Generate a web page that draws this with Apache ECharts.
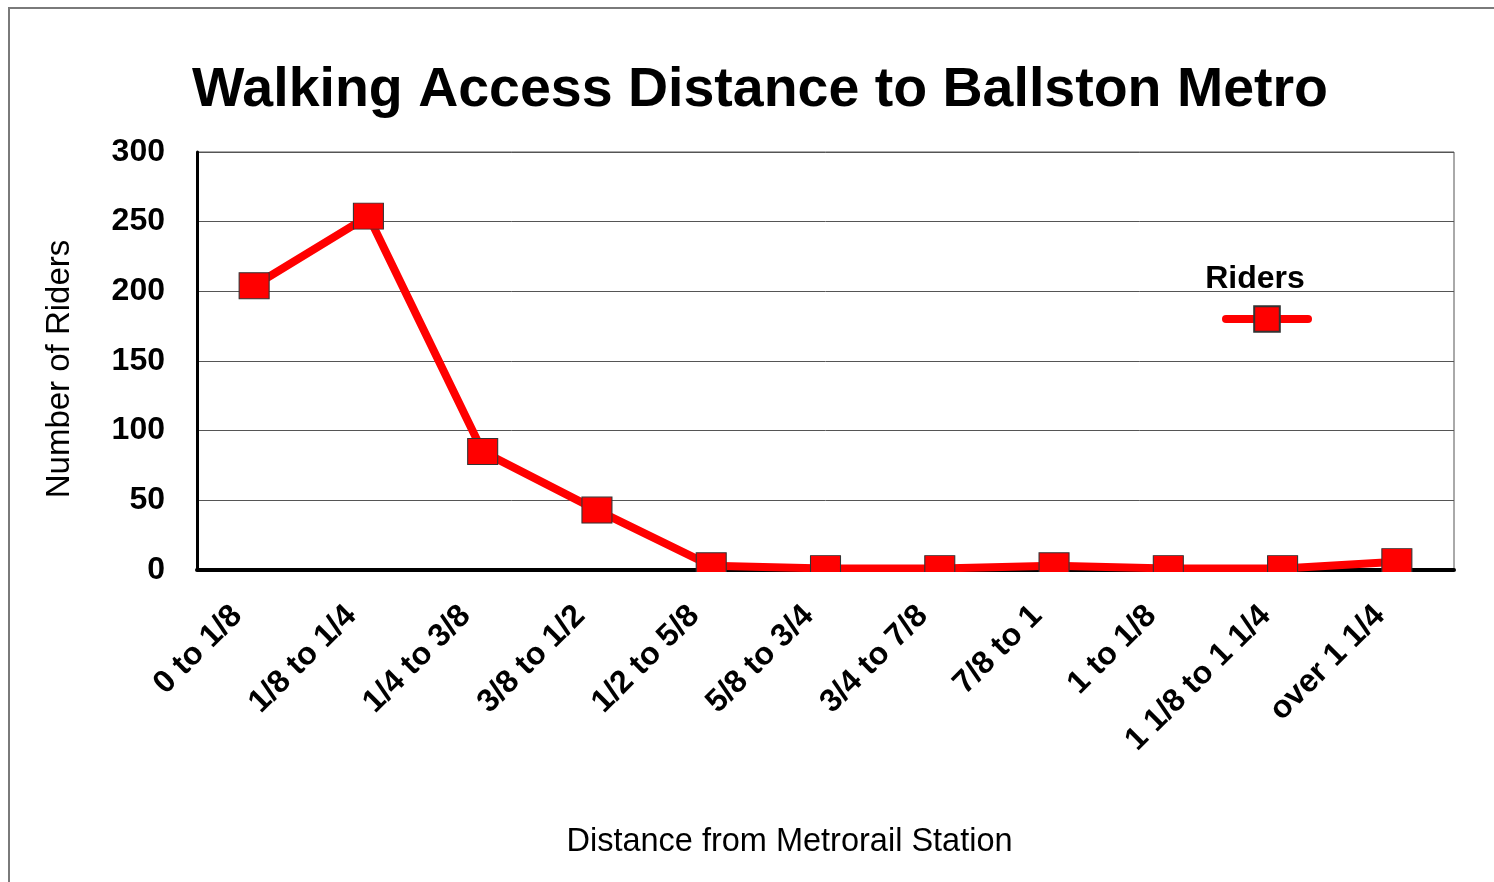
<!DOCTYPE html>
<html>
<head>
<meta charset="utf-8">
<script src="https://cdn.jsdelivr.net/npm/echarts@6/dist/echarts.min.js"></script>
<style>
  html, body { margin: 0; padding: 0; background: #fff; }
  #frame { position: absolute; left: 8px; top: 7px; width: 1486px; height: 875px;
           border-left: 2px solid #7a7a7a; border-top: 2px solid #7a7a7a; box-sizing: border-box; }
  #chart { position: absolute; left: 0; top: 0; width: 1494px; height: 882px; }
</style>
</head>
<body>
<div id="frame"></div>
<div id="chart"></div>
<script>
const categories = ['0 to 1/8', '1/8 to 1/4', '1/4 to 3/8', '3/8 to 1/2', '1/2 to 5/8',
  '5/8 to 3/4', '3/4 to 7/8', '7/8 to 1', '1 to 1/8', '1 1/8 to 1 1/4', 'over 1 1/4'];
const riders = [204, 254, 85, 43, 3, 1, 1, 3, 1, 1, 6];
const yTicks = [0, 50, 100, 150, 200, 250, 300];

const FONT = '"Liberation Sans", Arial, Helvetica, sans-serif';
const chart = echarts.init(document.getElementById('chart'));
chart.setOption({
  animation: false,
  backgroundColor: 'transparent',
  title: [
    { text: 'Walking Access Distance to Ballston Metro', left: 755, top: 58, textAlign: 'center',
      textStyle: { fontFamily: FONT, fontSize: 55.5, fontWeight: 'bold', color: '#000' } },
    { text: 'Riders', left: 1250, top: 258, textAlign: 'center',
      textStyle: { fontFamily: FONT, fontSize: 32, fontWeight: 'bold', color: '#000' } }
  ],
  legend: {
    left: 1222, top: 303, padding: 0,
    itemWidth: 82, itemHeight: 32,
    lineStyle: { width: 8, cap: 'round' },
    formatter: function () { return ''; },
    data: ['Riders']
  },
  grid: { left: 197, right: 40, top: 152, bottom: 312, show: true, borderColor: '#555', borderWidth: 1 },
  xAxis: {
    type: 'category', data: categories, boundaryGap: true,
    name: 'Distance from Metrorail Station', nameLocation: 'middle', nameGap: 256,
    nameTextStyle: { fontFamily: FONT, fontSize: 32.5, color: '#000', padding: [0, 72, 0, 0] },
    axisLine: { lineStyle: { color: '#000', width: 4 } },
    axisTick: { show: false },
    axisLabel: { rotate: 45, margin: 24, interval: 0, padding: [0, 24, 0, 0],
      fontFamily: FONT, fontSize: 32, fontWeight: 'bold', color: '#000' },
    splitLine: { show: false }
  },
  yAxis: {
    type: 'value', min: yTicks[0], max: yTicks[yTicks.length - 1], interval: 50,
    name: 'Number of Riders', nameLocation: 'middle', nameGap: 121,
    nameTextStyle: { fontFamily: FONT, fontSize: 33, color: '#000', padding: [0, 16, 0, 0] },
    axisLine: { show: true, lineStyle: { color: '#000', width: 3 } },
    axisTick: { show: false },
    axisLabel: { margin: 32, fontFamily: FONT, fontSize: 32, fontWeight: 'bold', color: '#000' },
    splitLine: { lineStyle: { color: '#555', width: 1 } }
  },
  series: [{
    name: 'Riders', type: 'line', data: riders,
    symbol: 'rect', symbolSize: [30, 26],
    lineStyle: { color: '#ff0000', width: 8 },
    itemStyle: { color: '#ff0000', borderColor: '#333', borderWidth: 1 },
    clip: false
  }],
  graphic: [{
    type: 'rect', z: 100, silent: true,
    shape: { x: 190, y: 572, width: 1270, height: 16 },
    style: { fill: '#fff' }
  }]
});
</script>
</body>
</html>
